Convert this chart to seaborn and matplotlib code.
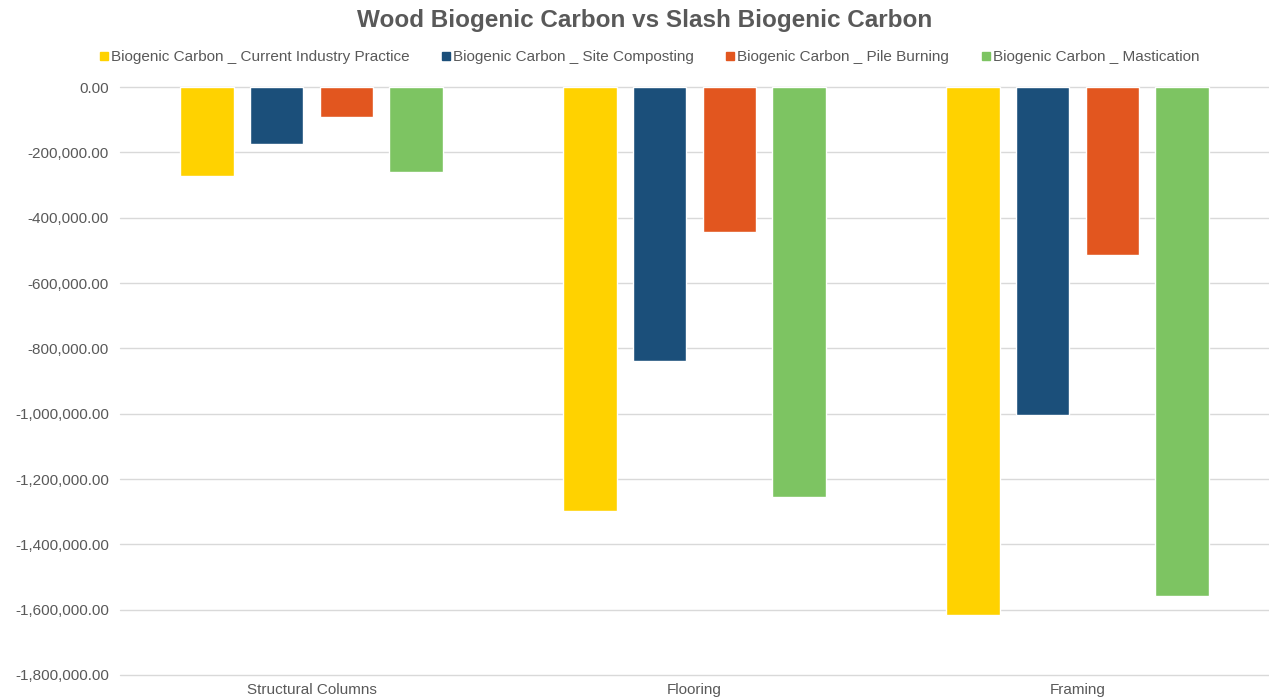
import pandas as pd
import seaborn as sns
import matplotlib.pyplot as plt
from matplotlib.lines import Line2D
from matplotlib.ticker import FuncFormatter

# values
categories = ['Structural Columns', 'Flooring', 'Framing']
series = ['Biogenic Carbon _ Current Industry Practice',
          'Biogenic Carbon _ Site Composting',
          'Biogenic Carbon _ Pile Burning',
          'Biogenic Carbon _ Mastication']
current_practice = [-272000, -1298000, -1616000]
site_composting = [-174000, -839000, -1004000]
pile_burning = [-91000, -444000, -514000]
mastication = [-260000, -1255000, -1558000]
colors = ['#FFD200', '#1B4F7A', '#E2561F', '#7DC462']

rows = []
for name, vals in zip(series, [current_practice, site_composting, pile_burning, mastication]):
    for cat, v in zip(categories, vals):
        rows.append({'Category': cat, 'Series': name, 'Value': v})
df = pd.DataFrame(rows)

sns.set_style('white')
plt.rcParams['font.family'] = ['Liberation Sans', 'DejaVu Sans']

fig = plt.figure(figsize=(12.69, 6.98), dpi=100)
ax = fig.add_axes([120 / 1269, 1 - 675 / 698, 1 - 120 / 1269, (675 - 87) / 698])

sns.barplot(data=df, x='Category', y='Value', hue='Series', hue_order=series,
            palette=colors, width=0.73, gap=0.23, saturation=1, ax=ax, legend=False)

ax.set_ylim(-1800000, 0)
ax.set_yticks(range(-1800000, 1, 200000))
ax.yaxis.set_major_formatter(FuncFormatter(lambda v, p: f'{v:,.2f}'))
ax.grid(axis='y', color='#D9D9D9', linewidth=1)
for gl in ax.get_ygridlines():
    gl.set_clip_on(False)
ax.set_axisbelow(True)
for s in ax.spines.values():
    s.set_visible(False)
ax.tick_params(axis='both', length=0, labelsize=11, colors='#595959', pad=8)
ax.tick_params(axis='x', pad=6)
ax.set_xlabel('')
ax.set_ylabel('')

fig.suptitle('Wood Biogenic Carbon vs Slash Biogenic Carbon', fontsize=17.5,
             fontweight='bold', color='#595959', x=0.508, y=1 - 9 / 698, va='top')

handles = [Line2D([0], [0], marker='s', linestyle='', markersize=6,
                  markerfacecolor=c, markeredgecolor=c) for c in colors]
fig.legend(handles, series, loc='center', bbox_to_anchor=(0.511, 1 - 57 / 698), ncol=4,
           frameon=False, fontsize=11, handletextpad=0.05, columnspacing=2.0,
           labelcolor='#595959', handlelength=0.8)

fig.savefig('out.png', dpi=100)
